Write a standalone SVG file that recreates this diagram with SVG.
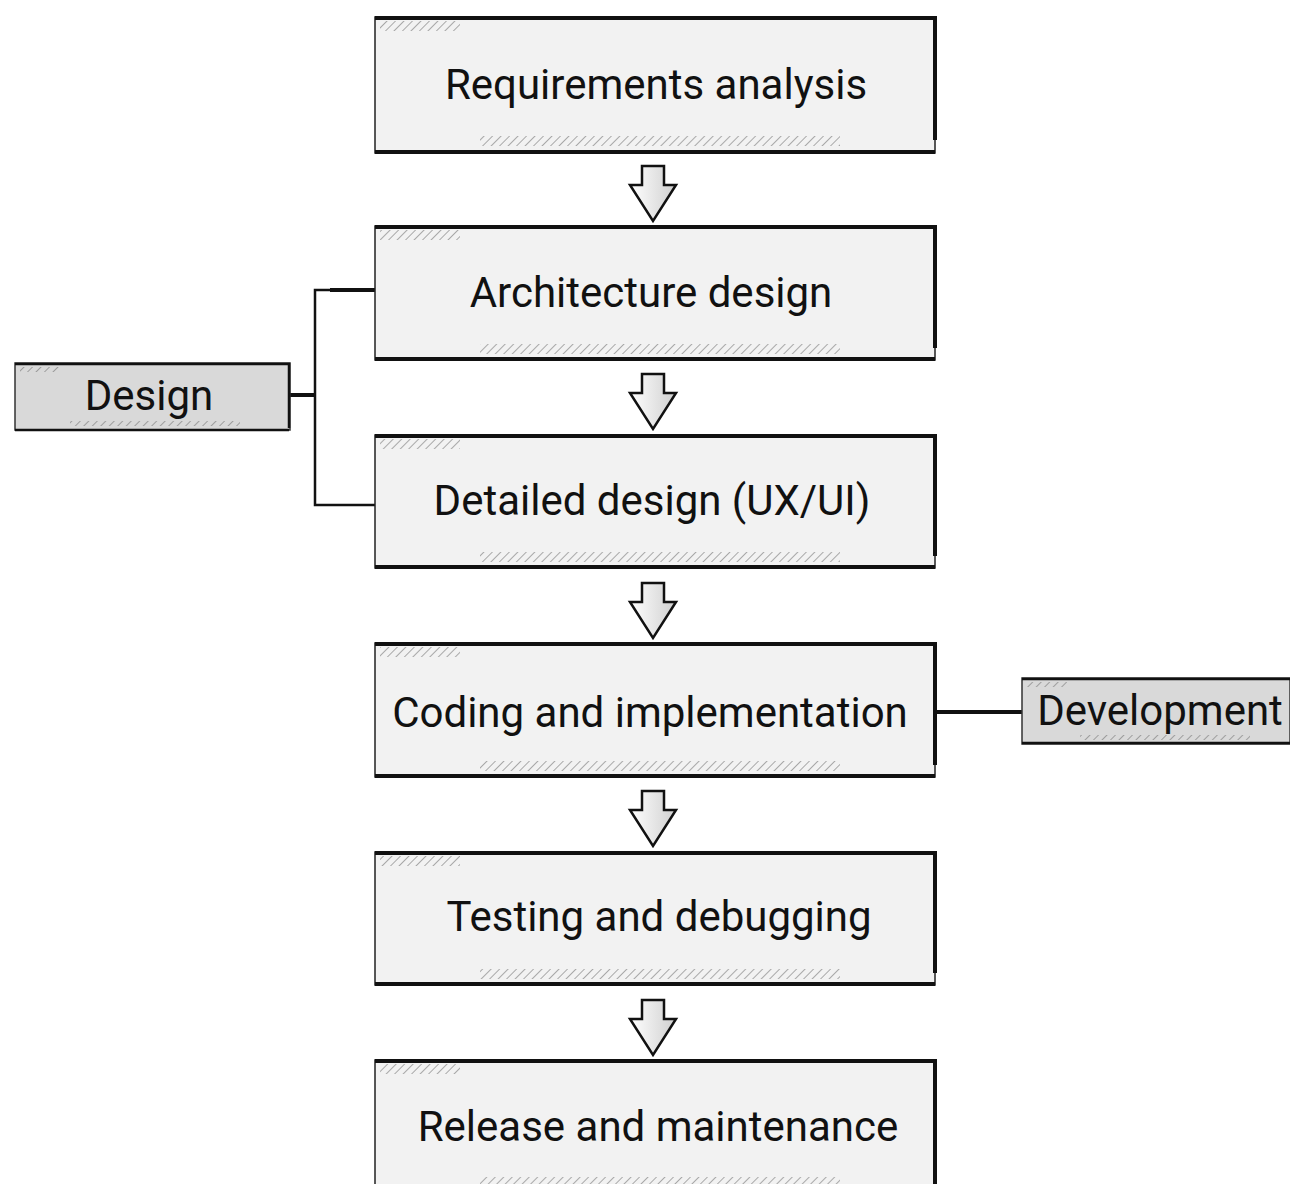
<svg xmlns="http://www.w3.org/2000/svg" width="1290" height="1184" viewBox="0 0 1290 1184">
<defs>
<pattern id="hatch" width="6" height="6" patternUnits="userSpaceOnUse" patternTransform="rotate(45)">
<line x1="0" y1="0" x2="0" y2="6" stroke="#777" stroke-width="1.5"/>
</pattern>
<linearGradient id="ag" x1="0" y1="0" x2="1" y2="0">
<stop offset="0" stop-color="#ffffff"/>
<stop offset="1" stop-color="#cfcfcf"/>
</linearGradient>
<g id="arrow">
<path d="M-11,0 H11 V19 H23 L0,55 L-23,19 H-11 Z" fill="url(#ag)" stroke="#111" stroke-width="2.5" stroke-linejoin="miter"/>
</g>
</defs>
<style>
.box{fill:#f2f2f2;stroke:#222;stroke-width:1.5}
.side{fill:#d9d9d9;stroke:#333;stroke-width:1.5}
.edge{stroke:#111;stroke-width:4;fill:none}
.hat{fill:url(#hatch);opacity:0.8}
.t{font-family:"Roboto","Noto Sans","Liberation Sans",sans-serif;font-size:42px;fill:#111;text-anchor:middle}
.conn{stroke:#111;stroke-width:2.5;fill:none}
.connb{stroke:#111;stroke-width:4;fill:none}
</style>
<rect width="1290" height="1184" fill="#ffffff"/>

<g id="connectors">
<path class="conn" d="M375,290 H315 V505 H375"/>
<path class="connb" d="M330,290 H375"/>
<path class="connb" d="M290,395 H315"/>
<path class="connb" d="M935,712 H1022"/>
<use href="#arrow" x="653" y="166"/>
<use href="#arrow" x="653" y="374"/>
<use href="#arrow" x="653" y="583"/>
<use href="#arrow" x="653" y="791"/>
<use href="#arrow" x="653" y="1000"/>
</g>

<g id="n1">
<rect class="box" x="375" y="17" width="560" height="136"/>
<path class="edge" d="M375,18 H935 V140 M935,152 H375"/>
<rect class="hat" x="380" y="21" width="80" height="10"/>
<rect class="hat" x="480" y="136" width="360" height="10"/>
<text class="t" x="656" y="99">Requirements analysis</text>
</g>
<g id="n2">
<rect class="box" x="375" y="226" width="560" height="134"/>
<path class="edge" d="M375,227 H935 V348 M935,359 H375"/>
<rect class="hat" x="380" y="230" width="80" height="10"/>
<rect class="hat" x="480" y="344" width="360" height="10"/>
<text class="t" x="651" y="307">Architecture design</text>
</g>
<g id="n3">
<rect class="box" x="375" y="435" width="560" height="133"/>
<path class="edge" d="M375,436 H935 V556 M935,567 H375"/>
<rect class="hat" x="380" y="439" width="80" height="10"/>
<rect class="hat" x="480" y="552" width="360" height="10"/>
<text class="t" x="652" y="515">Detailed design (UX/UI)</text>
</g>
<g id="n4">
<rect class="box" x="375" y="643" width="560" height="134"/>
<path class="edge" d="M375,644 H935 V765 M935,776 H375"/>
<rect class="hat" x="380" y="647" width="80" height="10"/>
<rect class="hat" x="480" y="761" width="360" height="10"/>
<text class="t" x="650" y="727">Coding and implementation</text>
</g>
<g id="n5">
<rect class="box" x="375" y="852" width="560" height="133"/>
<path class="edge" d="M375,853 H935 V973 M935,984 H375"/>
<rect class="hat" x="380" y="856" width="80" height="10"/>
<rect class="hat" x="480" y="969" width="360" height="10"/>
<text class="t" x="659" y="931">Testing and debugging</text>
</g>
<g id="n6">
<rect class="box" x="375" y="1060" width="560" height="134"/>
<path class="edge" d="M375,1061 H935 V1194"/>
<rect class="hat" x="380" y="1064" width="80" height="10"/>
<rect class="hat" x="480" y="1177" width="360" height="10"/>
<text class="t" x="658" y="1141">Release and maintenance</text>
</g>
<g id="design">
<rect class="side" x="15" y="363" width="275" height="67"/>
<path class="edge" style="stroke-width:2.5" d="M15,364 H289 V428 M289,430 H15"/>
<rect class="hat" x="20" y="367" width="40" height="5"/>
<rect class="hat" x="70" y="421" width="170" height="5"/>
<text class="t" x="149" y="410">Design</text>
</g>
<g id="development">
<rect class="side" x="1022" y="678" width="268" height="66"/>
<path class="edge" style="stroke-width:2.5" d="M1022,679 H1290 M1290,743 H1022"/>
<rect class="hat" x="1027" y="682" width="40" height="5"/>
<rect class="hat" x="1080" y="735" width="170" height="5"/>
<text class="t" x="1160" y="725">Development</text>
</g>
</svg>
